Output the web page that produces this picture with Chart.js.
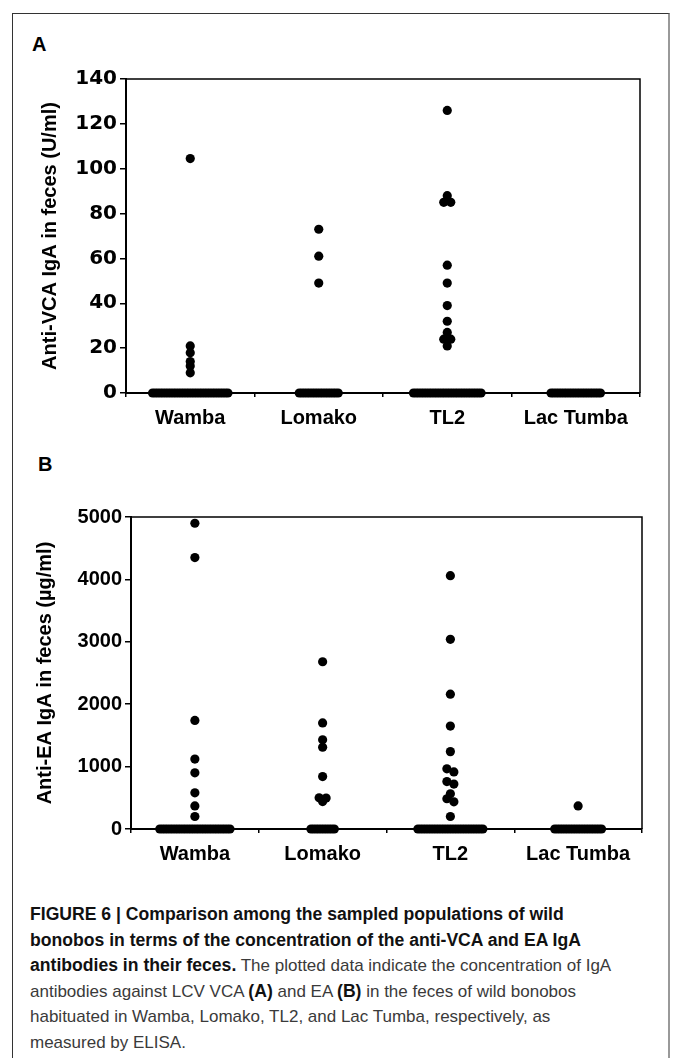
<!DOCTYPE html>
<html>
<head>
<meta charset="utf-8">
<script src="https://cdn.jsdelivr.net/npm/chart.js@4"></script>
<style>
  html, body { margin: 0; padding: 0; background: #fff; }
  #page { position: relative; width: 673px; height: 1058px; overflow: hidden; font-family: "Liberation Sans", Arial, sans-serif; }
  #frame { position: absolute; left: 12px; top: 13px; width: 655px; height: 1100px;
           border-left: 1px solid #333; border-top: 1px solid #333; border-right: 2px solid #999; }
  .panel { position: absolute; font-weight: bold; font-size: 20px; color: #000; }
  canvas { position: absolute; left: 0; }
  #caption { position: absolute; left: 30px; top: 902px; width: 640px; font-family: "Liberation Sans", Arial, sans-serif;
             font-size: 17px; line-height: 25.6px; color: #3a3a3a; white-space: nowrap; }
  #caption b { color: #111; font-size: 17.6px; line-height: 20px; }
</style>
</head>
<body>
<div id="page">
  <div id="frame"></div>
  <div class="panel" style="left:32px; top:33px;">A</div>
  <div class="panel" style="left:38px; top:453px;">B</div>
  <canvas id="chartA" width="673" height="440" style="top:0;"></canvas>
  <canvas id="chartB" width="673" height="440" style="top:440px;"></canvas>
  <div id="caption">
    <b>FIGURE 6 | Comparison among the sampled populations of wild</b><br>
    <b>bonobos in terms of the concentration of the anti-VCA and EA IgA</b><br>
    <b>antibodies in their feces.</b> The plotted data indicate the concentration of IgA<br>
    antibodies against LCV VCA <b>(A)</b> and EA <b>(B)</b> in the feces of wild bonobos<br>
    habituated in Wamba, Lomako, TL2, and Lac Tumba, respectively, as<br>
    measured by ELISA.
  </div>
</div>
<script>
(function () {
  'use strict';

  // Groupes (populations) et valeurs
  var groups = ['Wamba', 'Lomako', 'TL2', 'Lac Tumba'];

  // (A) anti-VCA IgA, U/ml : valeurs non nulles par groupe + nombre d'échantillons à 0
  var vcaWamba    = [104.5, 21, 18, 14, 12, 9];
  var vcaLomako   = [73, 61, 49];
  var vcaTL2      = [126, 88, 85, 85, 57, 49, 39, 32, 27, 24, 24, 21];
  var vcaLacTumba = [];
  var vcaZeros    = [30, 16, 27, 20];
  var vcaTicks    = [0, 20, 40, 60, 80, 100, 120, 140];

  // (B) anti-EA IgA, µg/ml
  var eaWamba    = [4900, 4350, 1740, 1120, 900, 580, 370, 200];
  var eaLomako   = [2680, 1700, 1430, 1310, 840, 500, 495, 440];
  var eaTL2      = [4060, 3040, 2160, 1650, 1240, 965, 915, 760, 720, 565, 485, 435, 200];
  var eaLacTumba = [370];
  var eaZeros    = [28, 10, 26, 19];
  var eaTicks    = [0, 1000, 2000, 3000, 4000, 5000];

  var FONT = 'Liberation Sans';
  var DOT_R = 4.6;
  var ROW_TOL = 3.5;    // px : points plus proches que ça = même rangée
  var PAIR_STEP = 7;    // px entre points d'une petite rangée
  var DENSE_STEP = 2.6; // px entre points d'une longue rangée (les zéros)

  function buildGroups(lists, zeros) {
    return lists.map(function (vals, i) {
      var all = vals.slice().sort(function (a, b) { return b - a; });
      for (var k = 0; k < zeros[i]; k++) { all.push(0); }
      return all;
    });
  }

  // Cadre autour de la zone de tracé
  var boxPlugin = {
    id: 'box',
    afterDatasetsDraw: function (chart) {
      var a = chart.chartArea, c = chart.ctx;
      c.save();
      c.strokeStyle = '#000';
      c.lineWidth = 1.5;
      c.beginPath();
      c.moveTo(a.left, a.top); c.lineTo(a.right, a.top); c.lineTo(a.right, a.bottom);
      c.stroke();
      c.restore();
    }
  };

  // Disposition en essaim : rangées centrées sur la catégorie
  function swarm(chart, groupVals) {
    var xs = chart.scales.x, ys = chart.scales.y;
    var unit = xs.getPixelForValue(1) - xs.getPixelForValue(0);
    var pts = [];
    groupVals.forEach(function (vals, g) {
      var rows = [];
      vals.forEach(function (v) {
        var py = ys.getPixelForValue(v);
        var row = rows[rows.length - 1];
        if (row && Math.abs(py - row.y0) <= ROW_TOL) { row.v.push(v); }
        else { rows.push({ y0: py, v: [v] }); }
      });
      rows.forEach(function (row) {
        var n = row.v.length;
        var step = n > 3 ? DENSE_STEP : PAIR_STEP;
        row.v.forEach(function (v, k) {
          pts.push({ x: g + (k - (n - 1) / 2) * step / unit, y: v });
        });
      });
    });
    chart.data.datasets[0].data = pts;
    chart.update('none');
  }

  function makeChart(id, groupVals, ticks, title, pad, yWidth, xHeight, titlePad, tickFont) {
    var chart = new Chart(document.getElementById(id), {
      type: 'scatter',
      data: {
        datasets: [{
          data: [],
          backgroundColor: '#000',
          borderColor: '#000',
          borderWidth: 0,
          pointRadius: DOT_R,
          pointHoverRadius: DOT_R,
          clip: false
        }]
      },
      options: {
        responsive: false,
        animation: false,
        events: [],
        layout: { padding: pad },
        plugins: { legend: { display: false }, tooltip: { enabled: false } },
        scales: {
          x: { type: 'linear', min: -0.5, max: groups.length - 0.5, display: false },
          x2: {
            type: 'category', labels: groups, position: 'bottom', offset: true,
            grid: { offset: true, drawOnChartArea: false, drawTicks: true, tickLength: 4, color: '#000', lineWidth: 1.5 },
            border: { display: true, color: '#000', width: 2 },
            ticks: { color: '#000', padding: 9, font: { family: FONT, size: 20, weight: 'bold' } },
            afterFit: function (s) { s.height = xHeight; }
          },
          y: {
            min: ticks[0], max: ticks[ticks.length - 1],
            afterBuildTicks: function (s) { s.ticks = ticks.map(function (v) { return { value: v }; }); },
            grid: { drawOnChartArea: false, drawTicks: true, tickLength: 6, color: '#000', lineWidth: 1.5 },
            border: { display: true, color: '#000', width: 2 },
            ticks: {
              color: '#000', padding: 3, font: { family: tickFont, size: 20, weight: 'bold' },
              callback: function (v) { return String(v); }
            },
            title: { display: true, text: title, color: '#000', padding: { top: titlePad, bottom: 0 },
                     font: { family: FONT, size: 20, weight: 'bold' } },
            afterFit: function (s) { s.width = yWidth; }
          }
        }
      },
      plugins: [boxPlugin]
    });
    swarm(chart, groupVals);
    return chart;
  }

  makeChart('chartA', buildGroups([vcaWamba, vcaLomako, vcaTL2, vcaLacTumba], vcaZeros), vcaTicks,
            'Anti-VCA IgA in feces (U/ml)', { top: 79, right: 33, left: 0, bottom: 0 }, 126, 47, 38, 'DejaVu Sans');
  makeChart('chartB', buildGroups([eaWamba, eaLomako, eaTL2, eaLacTumba], eaZeros), eaTicks,
            'Anti-EA IgA in feces (µg/ml)', { top: 77, right: 31, left: 0, bottom: 0 }, 131, 51, 33, FONT);
})();
</script>
</body>
</html>
